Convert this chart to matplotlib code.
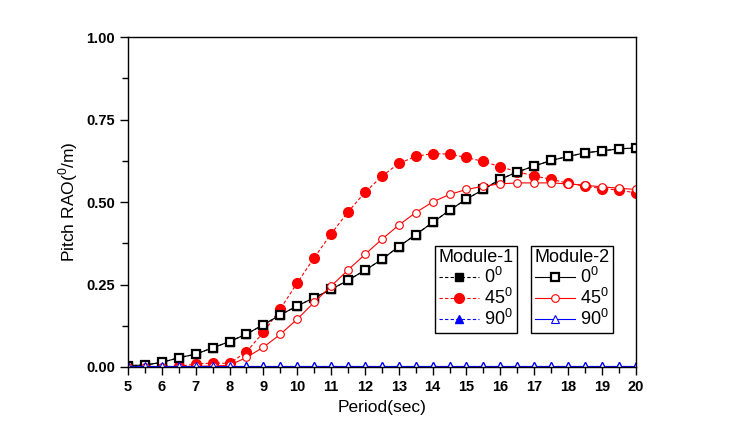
import matplotlib
matplotlib.use('Agg')
import matplotlib.pyplot as plt
from matplotlib.ticker import MultipleLocator

plt.rcParams['font.family'] = ['Liberation Sans', 'DejaVu Sans']
plt.rcParams['mathtext.fontset'] = 'custom'
plt.rcParams['mathtext.rm'] = 'Liberation Sans'

# Période (s)
period = [5.0, 5.5, 6.0, 6.5, 7.0, 7.5, 8.0, 8.5, 9.0, 9.5, 10.0, 10.5, 11.0, 11.5, 12.0, 12.5,
          13.0, 13.5, 14.0, 14.5, 15.0, 15.5, 16.0, 16.5, 17.0, 17.5, 18.0, 18.5, 19.0, 19.5, 20.0]

# Module-1
m1_0 = [0.004, 0.006, 0.014, 0.028, 0.039, 0.058, 0.077, 0.100, 0.128, 0.158, 0.185, 0.210, 0.235, 0.263,
        0.293, 0.326, 0.365, 0.401, 0.438, 0.475, 0.509, 0.538, 0.569, 0.591, 0.609, 0.626, 0.638, 0.649,
        0.655, 0.661, 0.664]
m1_45 = [0.000, 0.000, 0.001, 0.002, 0.009, 0.012, 0.011, 0.046, 0.105, 0.176, 0.255, 0.331, 0.403, 0.470,
         0.529, 0.578, 0.617, 0.638, 0.647, 0.645, 0.635, 0.623, 0.607, 0.592, 0.579, 0.569, 0.557, 0.548,
         0.541, 0.536, 0.528]
m1_90 = [0.003] * 31

# Module-2
m2_0 = list(m1_0)
m2_45 = [0.000, 0.000, 0.000, 0.001, 0.002, 0.003, 0.005, 0.029, 0.060, 0.099, 0.145, 0.196, 0.245, 0.294,
         0.341, 0.387, 0.430, 0.468, 0.500, 0.523, 0.538, 0.548, 0.555, 0.558, 0.558, 0.558, 0.555, 0.551,
         0.546, 0.542, 0.538]
m2_90 = [0.003] * 31

fig = plt.figure(figsize=(7.4, 4.26), dpi=100)
ax = fig.add_axes([0.173, 0.1385, 0.686, 0.7745])

# Module-1 : pointillés, marqueurs pleins
l1a, = ax.plot(period, m1_0, color='black', linestyle=(0, (3, 2)), linewidth=0.8,
               marker='s', markersize=5.5, markerfacecolor='black', markeredgecolor='black', label='0$^0$')
l1b, = ax.plot(period, m1_45, color='red', linestyle=(0, (3, 2)), linewidth=0.8,
               marker='o', markersize=7, markerfacecolor='red', markeredgecolor='red', label='45$^0$')
l1c, = ax.plot(period, m1_90, color='blue', linestyle=(0, (3, 2)), linewidth=0.8,
               marker='^', markersize=6, markerfacecolor='blue', markeredgecolor='blue', label='90$^0$')

# Module-2 : traits pleins, marqueurs vides
l2a, = ax.plot(period, m2_0, color='black', linestyle='-', linewidth=0.8,
               marker='s', markersize=5.5, markerfacecolor='white', markeredgecolor='black',
               markeredgewidth=1.6, label='0$^0$')
l2b, = ax.plot(period, m2_45, color='red', linestyle='-', linewidth=0.8,
               marker='o', markersize=5.5, markerfacecolor='white', markeredgecolor='red',
               markeredgewidth=0.8, label='45$^0$')
l2c, = ax.plot(period, m2_90, color='blue', linestyle='-', linewidth=0.8,
               marker='^', markersize=5.5, markerfacecolor='white', markeredgecolor='blue',
               markeredgewidth=0.8, label='90$^0$')

ax.set_xlim(5, 20)
ax.set_ylim(0, 1.0)
ax.xaxis.set_major_locator(MultipleLocator(1))
ax.xaxis.set_minor_locator(MultipleLocator(0.5))
ax.yaxis.set_major_locator(MultipleLocator(0.25))
ax.yaxis.set_minor_locator(MultipleLocator(0.125))
ax.yaxis.set_major_formatter(plt.FormatStrFormatter('%.2f'))
ax.tick_params(which='major', direction='out', length=6, width=1, labelsize=10.5)
ax.tick_params(which='minor', direction='out', length=4, width=1)
for lab in ax.get_xticklabels() + ax.get_yticklabels():
    lab.set_fontweight('bold')
for sp in ax.spines.values():
    sp.set_linewidth(1.0)

ax.set_xlabel('Period(sec)', fontsize=12.5)
ax.set_ylabel('Pitch RAO($^0$/m)', fontsize=12.5)

leg1 = ax.legend(handles=[l1a, l1b, l1c], title='Module-1', loc='lower left',
                 bbox_to_anchor=(0.604, 0.103), borderaxespad=0, fancybox=False,
                 edgecolor='black', framealpha=1, fontsize=13, title_fontsize=13,
                 handlelength=2.2, handletextpad=0.3, labelspacing=0.05, borderpad=0.2)
leg1.get_frame().set_linewidth(1.0)
ax.add_artist(leg1)
leg2 = ax.legend(handles=[l2a, l2b, l2c], title='Module-2', loc='lower left',
                 bbox_to_anchor=(0.793, 0.103), borderaxespad=0, fancybox=False,
                 edgecolor='black', framealpha=1, fontsize=13, title_fontsize=13,
                 handlelength=2.2, handletextpad=0.3, labelspacing=0.05, borderpad=0.2)
leg2.get_frame().set_linewidth(1.0)

fig.savefig('out.png', dpi=100)
